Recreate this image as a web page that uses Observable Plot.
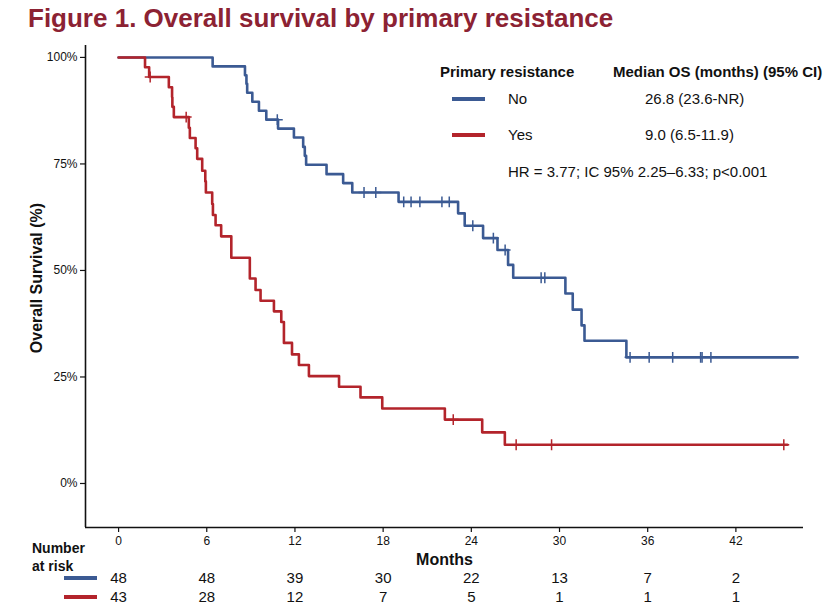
<!DOCTYPE html>
<html><head><meta charset="utf-8">
<script src="https://cdn.jsdelivr.net/npm/d3@7"></script>
<script src="https://cdn.jsdelivr.net/npm/@observablehq/plot@0.6"></script>
<style>
body{margin:0;background:#fff;width:832px;height:612px;overflow:hidden;position:relative;font-family:"Liberation Sans",Arial,sans-serif;color:#111}
#title{position:absolute;left:28px;top:3px;font-size:26px;line-height:30px;font-weight:bold;color:#8c2233;white-space:nowrap}
#chart{position:absolute;left:0;top:38px}
.ov{position:absolute;white-space:nowrap;font-size:15px;line-height:18px}
.b{font-weight:bold}
.sw{position:absolute;height:4px;width:33px}
#ylab{position:absolute;left:37px;top:278px;width:0;height:0}
#ylab span{position:absolute;left:0;top:0;transform:translate(-50%,-50%) rotate(-90deg);white-space:nowrap;font-weight:bold;font-size:16px;line-height:18px}
</style></head><body>
<div id="title">Figure 1. Overall survival by primary resistance</div>
<div id="chart"></div>
<div id="ylab"><span>Overall Survival (%)</span></div>
<script>
// ---- data ----
const groups = ["No", "Yes"];
const groupColors = ["#3b5a93", "#b3242b"];
const medianLabels = ["26.8 (23.6-NR)", "9.0 (6.5-11.9)"];
const hrLabel = "HR = 3.77; IC 95% 2.25\u20136.33; p<0.001";

// step times (months) and survival (%) after each step; last entry = end of follow-up
const noTimes = [0, 6.4, 8.6, 8.7, 8.75, 9.1, 9.55, 10.05, 10.85, 11.93, 12.56, 12.67, 12.76, 14.15, 15.28, 15.9, 19.05, 23.1, 23.55, 24.8, 25.78, 26.5, 26.85, 30.4, 30.9, 31.5, 31.7, 34.55, 46.2];
const noSurv  = [100, 97.9, 95.8, 93.8, 91.7, 89.6, 87.5, 85.4, 83.3, 81.2, 79.0, 76.9, 74.8, 72.6, 70.5, 68.3, 66.1, 63.4, 60.5, 57.6, 54.8, 51.3, 48.3, 44.6, 40.8, 37.1, 33.5, 29.6, 29.6];
const noCensored = [10.8, 16.7, 17.5, 19.4, 19.9, 20.5, 22.0, 22.5, 24.1, 25.5, 26.3, 28.75, 29.0, 34.8, 36.1, 37.7, 39.6, 39.7, 40.3];

const yesTimes = [0, 1.8, 2.08, 3.42, 3.64, 3.66, 3.76, 4.78, 4.85, 5.24, 5.35, 5.69, 5.9, 5.94, 6.37, 6.42, 6.6, 6.98, 7.67, 8.93, 9.32, 9.66, 10.57, 11.07, 11.25, 11.8, 12.27, 12.95, 15.0, 16.46, 17.94, 22.2, 24.74, 26.28, 45.5];
const yesSurv  = [100, 97.7, 95.4, 93.0, 90.7, 88.4, 86.0, 83.5, 81.1, 78.7, 76.2, 73.4, 70.9, 68.3, 65.6, 63.0, 60.6, 58.0, 53.0, 48.1, 45.4, 42.9, 40.4, 37.9, 33.0, 30.3, 27.8, 25.2, 22.7, 20.2, 17.6, 15.0, 12.0, 9.1, 9.1];
const yesCensored = [2.15, 4.6, 22.77, 27.05, 29.46, 45.26];

const riskTimes = [0, 6, 12, 18, 24, 30, 36, 42];
const riskNo  = [48, 48, 39, 30, 22, 13, 7, 2];
const riskYes = [43, 28, 12, 7, 5, 1, 1, 1];

const xTicks = [0, 6, 12, 18, 24, 30, 36, 42];
const yTicks = [0, 25, 50, 75, 100];

// ---- build tables ----
const lineRows = (times, surv, g) => times.map((t, i) => ({t, s: surv[i], g}));
const stepAt = (times, surv, t) => { let v = surv[0]; for (let i = 0; i < times.length; i++) if (times[i] <= t) v = surv[i]; return v; };
const censRows = (cens, times, surv, g) => cens.map(t => ({t, s: stepAt(times, surv, t), g}));

const lines = [...lineRows(noTimes, noSurv, "No"), ...lineRows(yesTimes, yesSurv, "Yes")];
const cens = [...censRows(noCensored, noTimes, noSurv, "No"), ...censRows(yesCensored, yesTimes, yesSurv, "Yes")];
const riskNoRows = riskTimes.map((t, i) => ({t, n: riskNo[i]}));
const riskYesRows = riskTimes.map((t, i) => ({t, n: riskYes[i]}));

const xDomain = [-2.25, 46.6];
const yDomain = [-10.33, 102.8];

const plot = Plot.plot({
  width: 832, height: 574,
  marginLeft: 85, marginRight: 29, marginTop: 7, marginBottom: 85,
  x: {domain: xDomain},
  y: {domain: yDomain},
  color: {domain: groups, range: groupColors},
  style: {fontFamily: "Liberation Sans, Arial, sans-serif", background: "white", color: "#111"},
  marks: [
    Plot.axisY(yTicks, {tickFormat: d => d + "%", tickSize: 5, tickPadding: 3, fontSize: 12, label: null, strokeWidth: 1.2}),
    Plot.axisX(xTicks, {tickSize: 5, tickPadding: 4, fontSize: 12, label: null, strokeWidth: 1.2}),
    Plot.ruleX([xDomain[0]], {stroke: "#111", strokeWidth: 1.6}),
    Plot.ruleY([yDomain[0]], {stroke: "#111", strokeWidth: 1.6}),
    Plot.line(lines, {x: "t", y: "s", z: "g", stroke: "g", curve: "step-after", strokeWidth: 2.6}),
    Plot.dot(cens, {x: "t", y: "s", stroke: "g", symbol: "plus", r: 3.6, strokeWidth: 1.5}),
    Plot.text(["Months"], {frameAnchor: "bottom", dy: 37, fontSize: 16, fontWeight: "bold"}),
    Plot.text(riskNoRows, {x: "t", text: "n", frameAnchor: "bottom", dy: 55, fontSize: 15}),
    Plot.text(riskYesRows, {x: "t", text: "n", frameAnchor: "bottom", dy: 74, fontSize: 15})
  ]
});
document.getElementById("chart").appendChild(plot);

// ---- legend / labels overlay ----
function ov(text, left, cy, cls) {
  const d = document.createElement("div");
  d.className = "ov " + (cls || "");
  d.textContent = text;
  d.style.left = left + "px";
  d.style.top = (cy - 9) + "px";
  document.body.appendChild(d);
}
function sw(color, left, cy) {
  const d = document.createElement("div");
  d.className = "sw";
  d.style.background = color;
  d.style.left = left + "px";
  d.style.top = (cy - 2) + "px";
  document.body.appendChild(d);
}
ov("Primary resistance", 440, 72, "b");
ov("Median OS (months) (95% CI)", 613, 72, "b");
groups.forEach((g, i) => {
  const cy = [99, 135][i];
  sw(groupColors[i], 452, cy);
  ov(g, 508, cy);
  ov(medianLabels[i], 645, cy);
});
ov(hrLabel, 508, 172);
// risk table labels
const nl = document.createElement("div");
nl.className = "ov b";
nl.style.cssText = "left:32px;top:539px;font-size:14px;line-height:18px";
nl.innerHTML = "Number<br>at risk";
document.body.appendChild(nl);
sw(groupColors[0], 64, 578);
sw(groupColors[1], 64, 597);
</script>
</body></html>
